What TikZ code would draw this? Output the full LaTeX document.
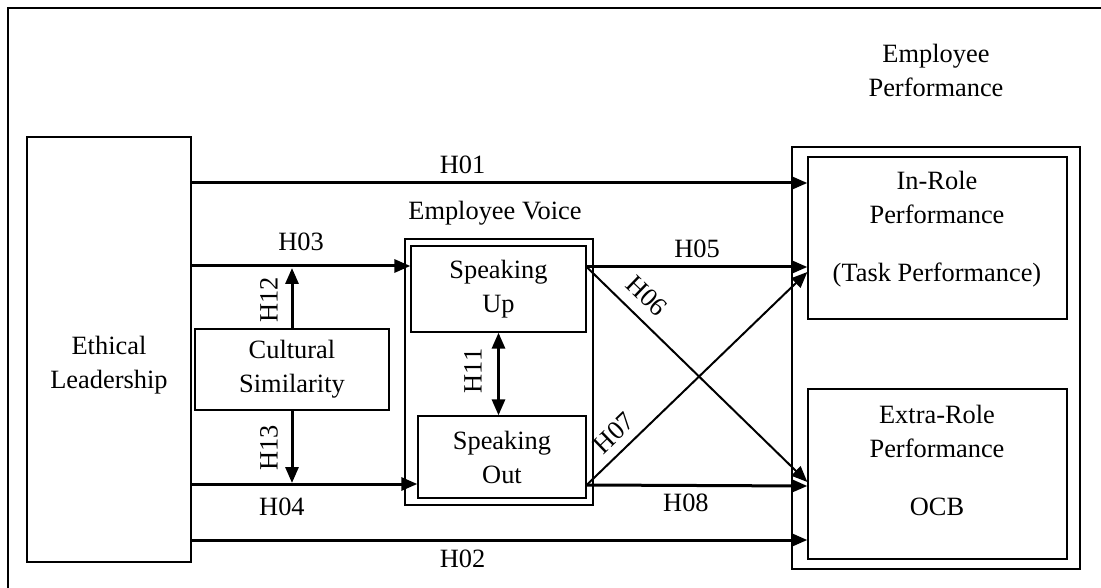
\documentclass[tikz,border=0pt]{standalone}
\usepackage{fontspec}
\setmainfont{Liberation Serif}
\usetikzlibrary{arrows.meta}
\begin{document}
\begin{tikzpicture}[x=1pt,y=-1pt,
  every node/.style={font=\fontsize{26.4}{34}\selectfont},
  box/.style={draw,line width=1.3pt,inner sep=0pt,align=center},
  txt/.style={inner sep=0pt,align=center},
  arr/.style={line width=3pt,-{Triangle[length=16pt,width=13pt]}},
  darr/.style={line width=3pt,{Triangle[length=16pt,width=13pt]}-{Triangle[length=16pt,width=13pt]}},
  diag/.style={line width=2pt,-{Triangle[length=16pt,width=13pt]}},
  lab/.style={inner sep=0pt}]
\useasboundingbox (0,0) rectangle (1101,588);
% frame
\coordinate (FTL) at (8,8);
\coordinate (FTR) at (1105,8);
\coordinate (FBL) at (8,592);
\draw[line width=1.5pt] (FBL) -- (FTL) -- (FTR);
% boxes
\node[box,minimum width=164pt,minimum height=425pt] (EL) at (109,349.5) {};
\node[txt] (ELt) at (109,365) {Ethical\\Leadership};
\node[box,minimum width=194pt,minimum height=81pt] (CS) at (292,369.5) {Cultural\\Similarity};
\node[box,minimum width=188pt,minimum height=266pt] (EV) at (499,372) {};
\node[txt] (EVt) at (495,213) {Employee Voice};
\node[box,minimum width=175pt,minimum height=86pt] (SU) at (498.5,289) {Speaking\\Up};
\node[box,minimum width=168pt,minimum height=82pt] (SO) at (502,457) {Speaking\\Out};
\node[box,minimum width=288pt,minimum height=422pt] (EP) at (936,358) {};
\node[txt] (EPt) at (936,70) {Employee\\Performance};
\node[box,minimum width=259pt,minimum height=162pt] (IR) at (937.5,238) {};
\node[txt] (IRt) at (937,229) {In-Role\\Performance\\[24pt](Task Performance)};
\node[box,minimum width=259pt,minimum height=170pt] (ER) at (937.5,474) {};
\node[txt] (ERt) at (937,460) {Extra-Role\\Performance\\[24pt]OCB};
% connectors
\draw[arr] (EL.east |- 0,183) -- (IR.west |- 0,183) node[lab,pos=0.44,above=8pt] (H01) {H01};
\draw[arr] (EL.east |- 0,266) -- (SU.west |- 0,266) node[lab,midway,above=14pt] (H03) {H03};
\draw[arr] (EL.east |- 0,484) -- (SO.west |- 0,484) node[lab,pos=0.4,below=12pt] (H04) {H04};
\draw[arr] (EL.east |- 0,540) -- (IR.west |- 0,540) node[lab,pos=0.44,below=8pt] (H02) {H02};
\draw[arr] (CS.north) -- (CS.north |- 0,268);
\node[lab,rotate=90] (H12t) at (269,300) {H12};
\draw[arr] (CS.south) -- (CS.south |- 0,483);
\node[lab,rotate=90] (H13t) at (269,448) {H13};
\draw[darr] (SU.south) -- (SU.south |- SO.north);
\node[lab,rotate=90] (H11t) at (473,371) {H11};
\coordinate (SUr) at (SU.east |- 0,267);
\coordinate (SOr) at (SO.east |- 0,485);
\draw[arr] (SUr) -- (IR.west |- 0,267) node[lab,midway,above=8pt] (H05) {H05};
\draw[arr] (SOr) -- (ER.west |- 0,486) node[lab,pos=0.45,below=7pt] (H08) {H08};
\draw[diag] (SUr) -- (ER.west |- 0,482);
\draw[diag] (SOr) -- (IR.west |- 0,272);
\node[lab,rotate=-44] (H06t) at (647,296) {H06};
\node[lab,rotate=44] (H07t) at (614,433) {H07};
\end{tikzpicture}
\end{document}
